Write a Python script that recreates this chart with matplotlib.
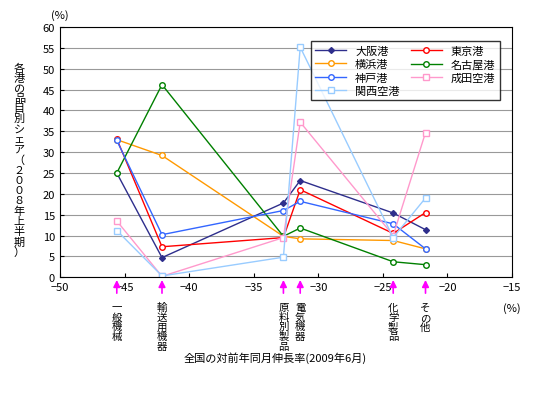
import matplotlib
matplotlib.use("Agg")
import matplotlib.pyplot as plt

plt.rcParams['font.family'] = ['Noto Sans CJK JP', 'DejaVu Sans']

x = [-45.6, -42.1, -32.7, -31.4, -24.2, -21.7]
cats = ["一\n般\n機\n械", "輸\n送\n用\n機\n器", "原\n料\n別\n製\n品", "電\n気\n機\n器", "化\n学\n製\n品", "そ\nの\n他"]
series = {
    "大阪港": [25.0, 4.7, 17.8, 23.2, 15.4, 11.4],
    "東京港": [33.2, 7.3, 9.5, 21.0, 10.5, 15.5],
    "横浜港": [33.0, 29.2, 9.8, 9.2, 8.8, 6.8],
    "名古屋港": [25.0, 46.2, 9.8, 11.8, 3.7, 3.0],
    "神戸港": [32.8, 10.2, 16.0, 18.2, 12.8, 6.8],
    "成田空港": [13.5, 0.2, 9.5, 37.2, 10.0, 34.7],
    "関西空港": [11.2, 0.3, 4.8, 55.2, 9.5, 19.0],
}
styles = {
    "大阪港": ("#2e2e8c", "D", True),
    "東京港": ("#ff0000", "o", False),
    "横浜港": ("#ff9900", "o", False),
    "名古屋港": ("#008000", "o", False),
    "神戸港": ("#3366ff", "o", False),
    "成田空港": ("#ff99cc", "s", False),
    "関西空港": ("#99ccff", "s", False),
}

fig = plt.figure(figsize=(5.5, 4.02), dpi=100)
ax = fig.add_axes([0.109, 0.308, 0.822, 0.622])
handles = {}
for name, vals in series.items():
    c, m, filled = styles[name]
    h, = ax.plot(x, vals, color=c, marker=m, markersize=4 if m != "D" else 3,
                 markerfacecolor=c if filled else "white", markeredgecolor=c,
                 lw=1, label=name)
    handles[name] = h
ax.set_xlim(-50, -15)
ax.set_ylim(0, 60)
ax.set_xticks(range(-50, -14, 5))
ax.set_yticks(range(0, 61, 5))
ax.tick_params(labelsize=8, length=3, direction='in')
ax.yaxis.grid(True, color='#999999', lw=0.8)
ax.set_axisbelow(True)
for xi, lab in zip(x, cats):
    ax.annotate("", xy=(xi, 0), xycoords=('data', 'axes fraction'),
                xytext=(xi, -0.075), textcoords=('data', 'axes fraction'),
                arrowprops=dict(arrowstyle='-|>', color='magenta', lw=1.2), annotation_clip=False)
    ax.text(xi, -0.1, lab, transform=ax.get_xaxis_transform(), ha='center', va='top',
            fontsize=7.5, linespacing=0.95)
ax.text(-15, -0.1, "(%)", transform=ax.get_xaxis_transform(), ha='center', va='top', fontsize=8)
ax.text(-50, 1.03, "(%)", transform=ax.get_xaxis_transform(), ha='center', va='bottom', fontsize=8)
fig.text(0.5, 0.1, "全国の対前年同月伸長率(2009年6月)", ha='center', fontsize=8)
fig.text(0.035, 0.6, "\n".join("各港の品目別シェア（２００８年上半期）"), ha='center', va='center',
         fontsize=8, linespacing=1.02)
order = ["大阪港", "横浜港", "神戸港", "関西空港", "東京港", "名古屋港", "成田空港"]
ax.legend([handles[n] for n in order], order, ncol=2, loc='upper right',
          bbox_to_anchor=(0.985, 0.965), fontsize=8,
          frameon=True, fancybox=False, edgecolor='black', handlelength=2.8,
          columnspacing=1.0, labelspacing=0.3, borderpad=0.4)
fig.savefig("out.png")
